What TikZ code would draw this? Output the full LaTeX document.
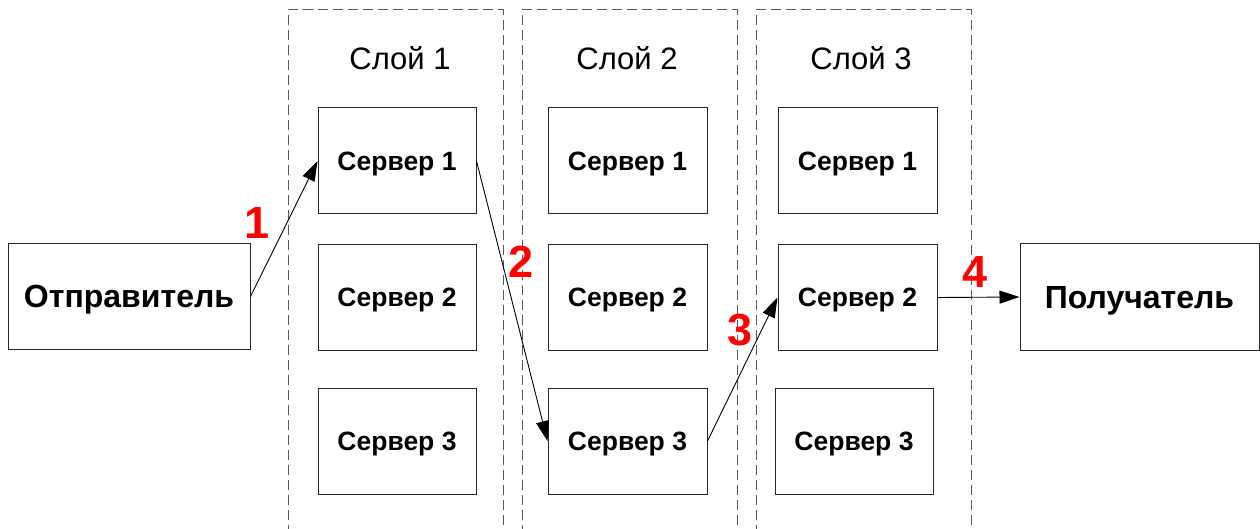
\documentclass[tikz,border=0pt]{standalone}
\usepackage{fontspec}
\setmainfont{Liberation Sans}
\usetikzlibrary{arrows.meta}
\begin{document}
\begin{tikzpicture}[x=1pt,y=-1pt,
  box/.style={draw=black!85,line width=1pt,fill=white,inner sep=0pt,minimum height=106pt,text depth=0pt,font=\fontsize{26.5}{30}\selectfont\bfseries},
  endbox/.style={box,font=\fontsize{32}{36}\selectfont\bfseries},
  layer/.style={draw=black!65,line width=1pt,dash pattern=on 10pt off 5pt},
  layertitle/.style={font=\fontsize{31}{36}\selectfont,inner sep=0pt},
  conn/.style={draw=black,line width=0.9pt,-{Triangle[length=20pt,width=13pt]}},
  num/.style={text=red,font=\fontsize{45}{50}\selectfont\bfseries,inner sep=0pt}]
\useasboundingbox (0,0) rectangle (1260,529);
% layers
\draw[layer] (288,535) -- (288,10) -- (503,10) -- (503,535);
\draw[layer] (522,535) -- (522,10) -- (737,10) -- (737,535);
\draw[layer] (756,535) -- (756,10) -- (971,10) -- (971,535);
\node[layertitle] (t1) at (400,58) {Слой 1};
\node[layertitle] (t2) at (627,58) {Слой 2};
\node[layertitle] (t3) at (861,58) {Слой 3};
% servers
\node[box,minimum width=158pt] (a1) at (397,161) {Сервер 1};
\node[box,minimum width=158pt,minimum height=105pt] (a2) at (397,297.5) {Сервер 2};
\node[box,minimum width=158pt] (a3) at (397,441) {Сервер 3};
\node[box,minimum width=159pt] (b1) at (627.5,161) {Сервер 1};
\node[box,minimum width=159pt,minimum height=105pt] (b2) at (627.5,297.5) {Сервер 2};
\node[box,minimum width=159pt] (b3) at (627.5,441) {Сервер 3};
\node[box,minimum width=159pt] (c1) at (857.5,161) {Сервер 1};
\node[box,minimum width=159pt,minimum height=105pt] (c2) at (857.5,297.5) {Сервер 2};
\node[box,minimum width=158pt] (c3) at (854,441) {Сервер 3};
% endpoints
\node[endbox,minimum width=242pt] (snd) at (129,296.5) {Отправитель};
\node[endbox,minimum width=239pt] (rcv) at (1139.5,297) {Получатель};
% connectors
\draw[conn] (snd.east) -- (a1.west);
\draw[conn] (a1.east) -- (b3.west);
\draw[conn] (b3.east) -- (c2.west);
\draw[conn] (c2.east) -- (rcv.west);
% numbers
\node[num] (n1) at (257,223) {1};
\node[num] (n2) at (521,262) {2};
\node[num] (n3) at (740,330) {3};
\node[num] (n4) at (975,272) {4};
\end{tikzpicture}
\end{document}
